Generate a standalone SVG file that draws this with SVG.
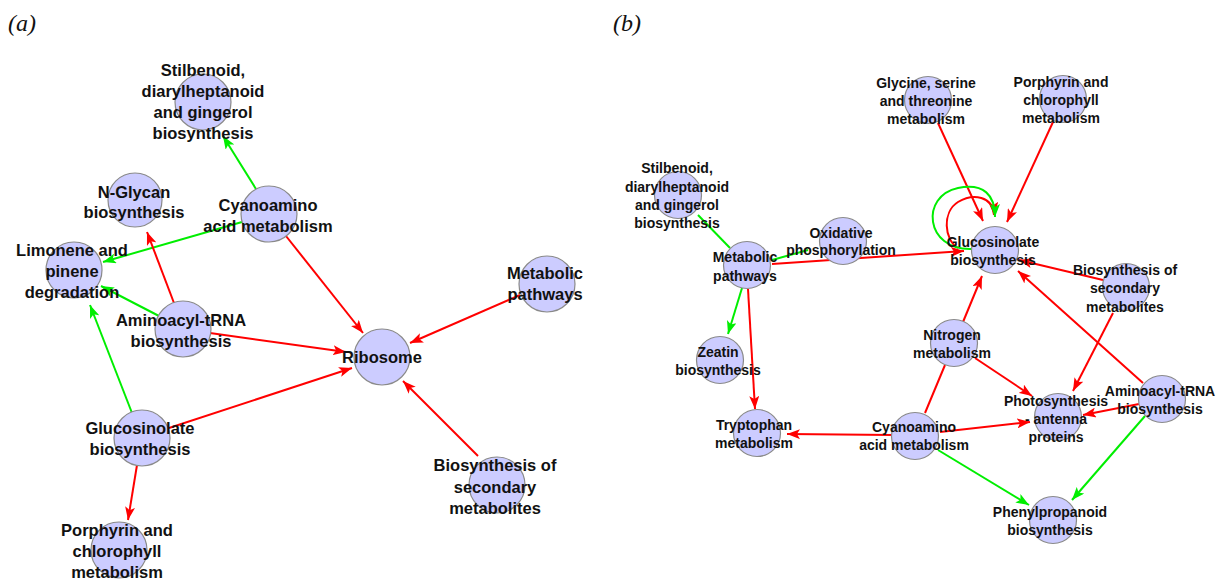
<svg xmlns="http://www.w3.org/2000/svg" width="1217" height="580" viewBox="0 0 1217 580">
  <style>
    .bg { fill: #ffffff; }
    .node circle { fill: #ccccff; stroke: #8a8a8a; stroke-width: 1.2; }
    .node text { font-family: "Liberation Sans", Arial, sans-serif; font-weight: bold; fill: #111; text-anchor: middle; }
    #panel-a .node text { font-size: 16.5px; }
    #panel-b .node text { font-size: 14px; }
    .edge { fill: none; stroke-width: 2; }
    .red { stroke: #ff0000; }
    .green { stroke: #00ee00; }
    .red.arrow { marker-end: url(#arrow-red); }
    .green.arrow { marker-end: url(#arrow-green); }
    .panel-label { font-family: "Liberation Serif", "Times New Roman", serif; font-style: italic; font-size: 24px; fill: #111; }
  </style>
  <defs>
    <marker id="arrow-red" viewBox="0 0 13 10" refX="13" refY="5" markerWidth="13" markerHeight="10" orient="auto" markerUnits="userSpaceOnUse">
      <path d="M0,0 L13,5 L0,10 L3,5 z" fill="#ff0000"/>
    </marker>
    <marker id="arrow-green" viewBox="0 0 13 10" refX="13" refY="5" markerWidth="13" markerHeight="10" orient="auto" markerUnits="userSpaceOnUse">
      <path d="M0,0 L13,5 L0,10 L3,5 z" fill="#00ee00"/>
    </marker>
  </defs>
  <rect class="bg" x="0" y="0" width="1217" height="580"/>

  <text class="panel-label" x="8" y="31">(a)</text>
  <text class="panel-label" x="613" y="31">(b)</text>

  <!-- ===== Panel (a) ===== -->
  <g id="panel-a">
    <g id="a-edges">
      <line class="edge green arrow" x1="256" y1="189" x2="223" y2="136"/>
      <line class="edge green arrow" x1="242" y1="222" x2="103" y2="262"/>
      <line class="edge red arrow" x1="286" y1="236" x2="363" y2="333"/>
      <line class="edge red arrow" x1="174" y1="303" x2="147" y2="232"/>
      <line class="edge green arrow" x1="159" y1="316" x2="101" y2="286"/>
      <line class="edge red arrow" x1="210" y1="333" x2="346" y2="352"/>
      <line class="edge green arrow" x1="132" y1="413" x2="90" y2="305"/>
      <line class="edge red arrow" x1="169" y1="428" x2="352" y2="368"/>
      <line class="edge red arrow" x1="137" y1="465" x2="128" y2="520"/>
      <line class="edge red arrow" x1="520" y1="295" x2="410" y2="343"/>
      <line class="edge red arrow" x1="478" y1="456" x2="403" y2="381"/>
    </g>

    <g id="a-stilbenoid" class="node">
      <circle cx="203" cy="102" r="28"/>
      <text x="203" y="70" dy=".35em">Stilbenoid,</text>
      <text x="203" y="91" dy=".35em">diarylheptanoid</text>
      <text x="203" y="112" dy=".35em">and gingerol</text>
      <text x="203" y="133" dy=".35em">biosynthesis</text>
    </g>
    <g id="a-nglycan" class="node">
      <circle cx="135" cy="200" r="27"/>
      <text x="134" y="192" dy=".35em">N-Glycan</text>
      <text x="134" y="212" dy=".35em">biosynthesis</text>
    </g>
    <g id="a-cyanoamino" class="node">
      <circle cx="269" cy="214" r="28"/>
      <text x="268" y="205" dy=".35em">Cyanoamino</text>
      <text x="268" y="226" dy=".35em">acid metabolism</text>
    </g>
    <g id="a-limonene" class="node">
      <circle cx="74" cy="270" r="28"/>
      <text x="72" y="250" dy=".35em">Limonene and</text>
      <text x="72" y="271" dy=".35em">pinene</text>
      <text x="72" y="292" dy=".35em">degradation</text>
    </g>
    <g id="a-aminoacyl" class="node">
      <circle cx="183" cy="329" r="28"/>
      <text x="181" y="320" dy=".35em">Aminoacyl-tRNA</text>
      <text x="181" y="341" dy=".35em">biosynthesis</text>
    </g>
    <g id="a-ribosome" class="node">
      <circle cx="382" cy="357" r="28"/>
      <text x="382" y="357" dy=".35em">Ribosome</text>
    </g>
    <g id="a-metabolic" class="node">
      <circle cx="547" cy="284" r="28"/>
      <text x="545" y="273" dy=".35em">Metabolic</text>
      <text x="545" y="294" dy=".35em">pathways</text>
    </g>
    <g id="a-glucosinolate" class="node">
      <circle cx="142" cy="438" r="28"/>
      <text x="140" y="428" dy=".35em">Glucosinolate</text>
      <text x="140" y="449" dy=".35em">biosynthesis</text>
    </g>
    <g id="a-biosecondary" class="node">
      <circle cx="497" cy="485" r="28"/>
      <text x="495" y="465" dy=".35em">Biosynthesis of</text>
      <text x="495" y="487" dy=".35em">secondary</text>
      <text x="495" y="508" dy=".35em">metabolites</text>
    </g>
    <g id="a-porphyrin" class="node">
      <circle cx="119" cy="550" r="28"/>
      <text x="117" y="530" dy=".35em">Porphyrin and</text>
      <text x="117" y="551" dy=".35em">chlorophyll</text>
      <text x="117" y="572" dy=".35em">metabolism</text>
    </g>
  </g>

  <!-- ===== Panel (b) ===== -->
  <g id="panel-b">
    <g id="b-edges">
      <line class="edge green" x1="730" y1="248" x2="698" y2="215"/>
      <line class="edge green" x1="772" y1="260" x2="808" y2="250"/>
      <line class="edge red arrow" x1="772" y1="264" x2="964" y2="251"/>
      <line class="edge green arrow" x1="742" y1="288" x2="728" y2="334"/>
      <line class="edge red arrow" x1="748" y1="289" x2="755" y2="409"/>
      <line class="edge red arrow" x1="938" y1="123" x2="983" y2="221"/>
      <line class="edge red arrow" x1="1053" y1="122" x2="1007" y2="222"/>
      <path class="edge red arrow" d="M958,248 C944,240 942,212 958,202 C973,193 993,196 994,215"/>
      <path class="edge green arrow" d="M971,249 C925,250 920,196 958,188 C984,183 995,195 995,217"/>
      <line class="edge red arrow" x1="1103" y1="280" x2="1019" y2="260"/>
      <line class="edge red arrow" x1="1143" y1="383" x2="1018" y2="271"/>
      <line class="edge red arrow" x1="963" y1="322" x2="982" y2="276"/>
      <line class="edge red" x1="925" y1="413" x2="945" y2="365"/>
      <line class="edge red arrow" x1="975" y1="358" x2="1032" y2="396"/>
      <line class="edge red arrow" x1="1113" y1="313" x2="1073" y2="391"/>
      <line class="edge red arrow" x1="1139" y1="404" x2="1083" y2="415"/>
      <line class="edge red arrow" x1="940" y1="432" x2="1030" y2="422"/>
      <line class="edge red arrow" x1="893" y1="435" x2="787" y2="434"/>
      <line class="edge green arrow" x1="938" y1="450" x2="1029" y2="505"/>
      <line class="edge green arrow" x1="1145" y1="416" x2="1072" y2="500"/>
    </g>

    <g id="b-glycine" class="node">
      <circle cx="928" cy="100" r="23.5"/>
      <text x="926" y="83" dy=".35em">Glycine, serine</text>
      <text x="926" y="101" dy=".35em">and threonine</text>
      <text x="926" y="119" dy=".35em">metabolism</text>
    </g>
    <g id="b-porphyrin" class="node">
      <circle cx="1063" cy="99" r="23.5"/>
      <text x="1061" y="82" dy=".35em">Porphyrin and</text>
      <text x="1061" y="100" dy=".35em">chlorophyll</text>
      <text x="1061" y="118" dy=".35em">metabolism</text>
    </g>
    <g id="b-stilbenoid" class="node">
      <circle cx="678" cy="195" r="23.5"/>
      <text x="677" y="168" dy=".35em">Stilbenoid,</text>
      <text x="677" y="187" dy=".35em">diarylheptanoid</text>
      <text x="677" y="205" dy=".35em">and gingerol</text>
      <text x="677" y="223" dy=".35em">biosynthesis</text>
    </g>
    <g id="b-oxidative" class="node">
      <circle cx="843" cy="241" r="23.5"/>
      <text x="841" y="233" dy=".35em">Oxidative</text>
      <text x="841" y="250" dy=".35em">phosphorylation</text>
    </g>
    <g id="b-metabolic" class="node">
      <circle cx="747" cy="265" r="23.5"/>
      <text x="745" y="257" dy=".35em">Metabolic</text>
      <text x="745" y="276" dy=".35em">pathways</text>
    </g>
    <g id="b-glucosinolate" class="node">
      <circle cx="995" cy="250" r="23.5"/>
      <text x="993" y="242" dy=".35em">Glucosinolate</text>
      <text x="993" y="260" dy=".35em">biosynthesis</text>
    </g>
    <g id="b-biosecondary" class="node">
      <circle cx="1126" cy="287" r="23.5"/>
      <text x="1125" y="270" dy=".35em">Biosynthesis of</text>
      <text x="1125" y="288" dy=".35em">secondary</text>
      <text x="1125" y="307" dy=".35em">metabolites</text>
    </g>
    <g id="b-nitrogen" class="node">
      <circle cx="954" cy="343" r="23.5"/>
      <text x="952" y="335" dy=".35em">Nitrogen</text>
      <text x="952" y="353" dy=".35em">metabolism</text>
    </g>
    <g id="b-zeatin" class="node">
      <circle cx="720" cy="360" r="23.5"/>
      <text x="718" y="352" dy=".35em">Zeatin</text>
      <text x="718" y="370" dy=".35em">biosynthesis</text>
    </g>
    <g id="b-aminoacyl" class="node">
      <circle cx="1162" cy="399" r="23.5"/>
      <text x="1160" y="391" dy=".35em">Aminoacyl-tRNA</text>
      <text x="1160" y="409" dy=".35em">biosynthesis</text>
    </g>
    <g id="b-photosynthesis" class="node">
      <circle cx="1058" cy="417" r="23.5"/>
      <text x="1056" y="401" dy=".35em">Photosynthesis</text>
      <text x="1056" y="419" dy=".35em">- antenna</text>
      <text x="1056" y="437" dy=".35em">proteins</text>
    </g>
    <g id="b-tryptophan" class="node">
      <circle cx="757" cy="433" r="23.5"/>
      <text x="754" y="425" dy=".35em">Tryptophan</text>
      <text x="754" y="443" dy=".35em">metabolism</text>
    </g>
    <g id="b-cyanoamino" class="node">
      <circle cx="915" cy="436" r="23.5"/>
      <text x="914" y="427" dy=".35em">Cyanoamino</text>
      <text x="914" y="445" dy=".35em">acid metabolism</text>
    </g>
    <g id="b-phenylpropanoid" class="node">
      <circle cx="1053" cy="520" r="23.5"/>
      <text x="1050" y="512" dy=".35em">Phenylpropanoid</text>
      <text x="1050" y="530" dy=".35em">biosynthesis</text>
    </g>
  </g>
</svg>
